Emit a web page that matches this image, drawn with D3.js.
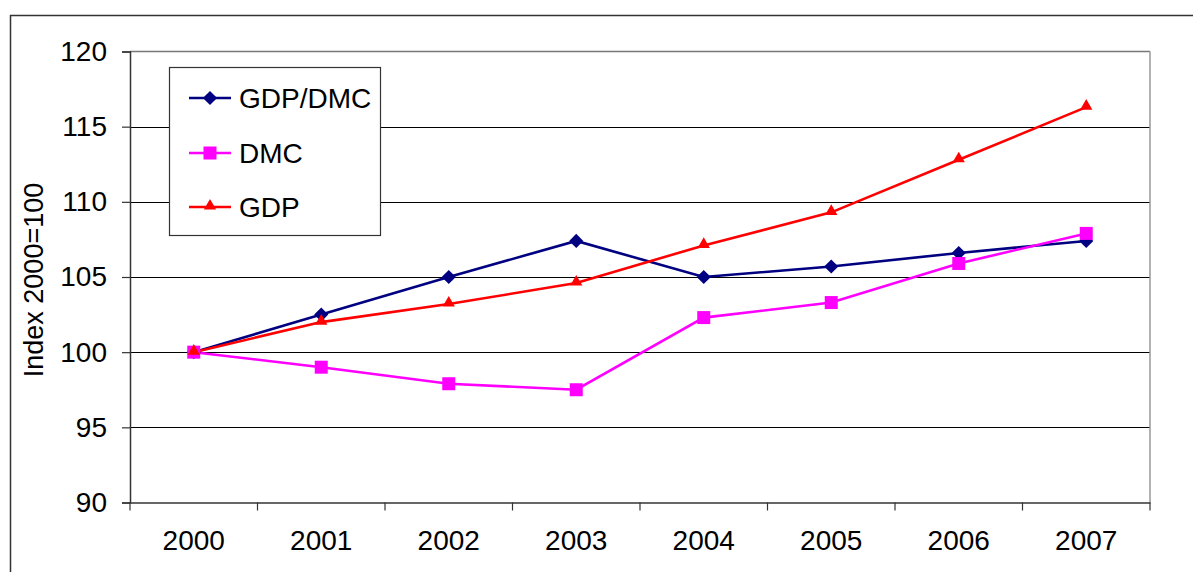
<!DOCTYPE html>
<html><head><meta charset="utf-8">
<script src="https://cdn.jsdelivr.net/npm/d3@7"></script>
<style>body{margin:0;background:#fff;}svg{display:block;font-family:"Liberation Sans",Arial,sans-serif;}</style>
</head><body>
<svg id="c" width="1193" height="572"></svg>
<script>
const years = ["2000","2001","2002","2003","2004","2005","2006","2007"];
const gdpDmc = [100, 102.5, 105.0, 107.4, 105.0, 105.7, 106.6, 107.4];
const dmc = [100, 99.0, 97.9, 97.5, 102.3, 103.3, 105.9, 107.9];
const gdp = [100, 102.0, 103.2, 104.6, 107.1, 109.3, 112.8, 116.3];
const yTicks = [90, 95, 100, 105, 110, 115, 120];
const seriesNames = ["GDP/DMC", "DMC", "GDP"];
const seriesColors = ["#000080", "#FF00FF", "#FF0000"];
const seriesData = [gdpDmc, dmc, gdp];

const svg = d3.select("#c");
const L = 130, R = 1150, T = 51.5, B = 502.5;
svg.append("rect").attr("x",10.5).attr("y",15.5).attr("width",1300).attr("height",700)
  .attr("fill","none").attr("stroke","#333").attr("stroke-width",1.5);

const x = d3.scaleBand().domain(years).range([L, R]);
const y = d3.scaleLinear().domain([90, 120]).range([B, T]);

// marker drawing
function marker(g, i, px, py) {
  const c = seriesColors[i];
  if (i === 0) {
    g.append("path").attr("transform", `translate(${px},${py}) rotate(45)`)
      .attr("d", d3.symbol().type(d3.symbolSquare).size(100)).attr("fill", c);
  } else if (i === 1) {
    g.append("path").attr("transform", `translate(${px},${py})`)
      .attr("d", d3.symbol().type(d3.symbolSquare).size(169)).attr("fill", c);
  } else {
    g.append("path").attr("transform", `translate(${px},${py - 1})`)
      .attr("d", d3.symbol().type(d3.symbolTriangle).size(65)).attr("fill", c);
  }
}

// gridlines
svg.append("g").selectAll("line").data(yTicks.filter(t => t > 90 && t < 120)).join("line")
  .attr("x1", L).attr("x2", R).attr("y1", d => Math.round(y(d))+0.5).attr("y2", d => Math.round(y(d))+0.5)
  .attr("stroke", "#000").attr("stroke-width", 1);
svg.append("line").attr("x1",L).attr("x2",R).attr("y1",T).attr("y2",T).attr("stroke","#777").attr("stroke-width",1.5);
svg.append("line").attr("x1",R).attr("x2",R).attr("y1",T).attr("y2",B).attr("stroke","#999").attr("stroke-width",1.5);

// y axis
const yAxis = d3.axisLeft(y).tickValues(yTicks).tickSize(8).tickPadding(15);
const gy = svg.append("g").attr("transform", `translate(${L},0)`).call(yAxis);
gy.select(".domain").attr("stroke","#333").attr("stroke-width",1.5);
gy.selectAll(".tick line").attr("stroke","#333").attr("stroke-width",1.2);
gy.selectAll("text").attr("font-size", 28).attr("fill","#000").attr("font-family","Liberation Sans, Arial, sans-serif");

// x axis
const xAxis = d3.axisBottom(x).tickSize(0).tickPadding(28);
const gx = svg.append("g").attr("transform", `translate(0,${B})`).call(xAxis);
gx.select(".domain").attr("stroke","#333").attr("stroke-width",1.5);
gx.selectAll("text").attr("font-size", 28).attr("fill","#000").attr("font-family","Liberation Sans, Arial, sans-serif");
const bounds = years.map(d => x(d)).concat([R]);
gx.selectAll(".bt").data(bounds).join("line").attr("class","bt")
  .attr("x1", d => d).attr("x2", d => d).attr("y1", 0).attr("y2", 8)
  .attr("stroke","#333").attr("stroke-width",1.2);

// y title
svg.append("text").attr("transform", `translate(43,${280}) rotate(-90)`)
  .attr("text-anchor","middle").attr("font-size", 27).text("Index 2000=100");

// lines
const cx = d => x(d) + x.bandwidth()/2;
seriesData.forEach((vals, i) => {
  const line = d3.line().x((v, j) => cx(years[j])).y(v => y(v));
  svg.append("path").datum(vals).attr("d", line).attr("fill","none")
    .attr("stroke", seriesColors[i]).attr("stroke-width", 2.6);
});
seriesData.forEach((vals, i) => {
  const g = svg.append("g");
  vals.forEach((v, j) => marker(g, i, cx(years[j]), y(v)));
});

// legend
const lg = svg.append("g");
lg.append("rect").attr("x",169.5).attr("y",67.5).attr("width",211).attr("height",168)
  .attr("fill","#fff").attr("stroke","#333").attr("stroke-width",1.2);
const ly = [98, 153, 207];
seriesNames.forEach((n, i) => {
  lg.append("line").attr("x1",189).attr("x2",231).attr("y1",ly[i]).attr("y2",ly[i])
    .attr("stroke", seriesColors[i]).attr("stroke-width", 2.6);
  marker(lg, i, 210, ly[i]);
  lg.append("text").attr("x",239).attr("y",ly[i]+10).attr("font-size",28).text(n);
});
</script>
</body></html>
